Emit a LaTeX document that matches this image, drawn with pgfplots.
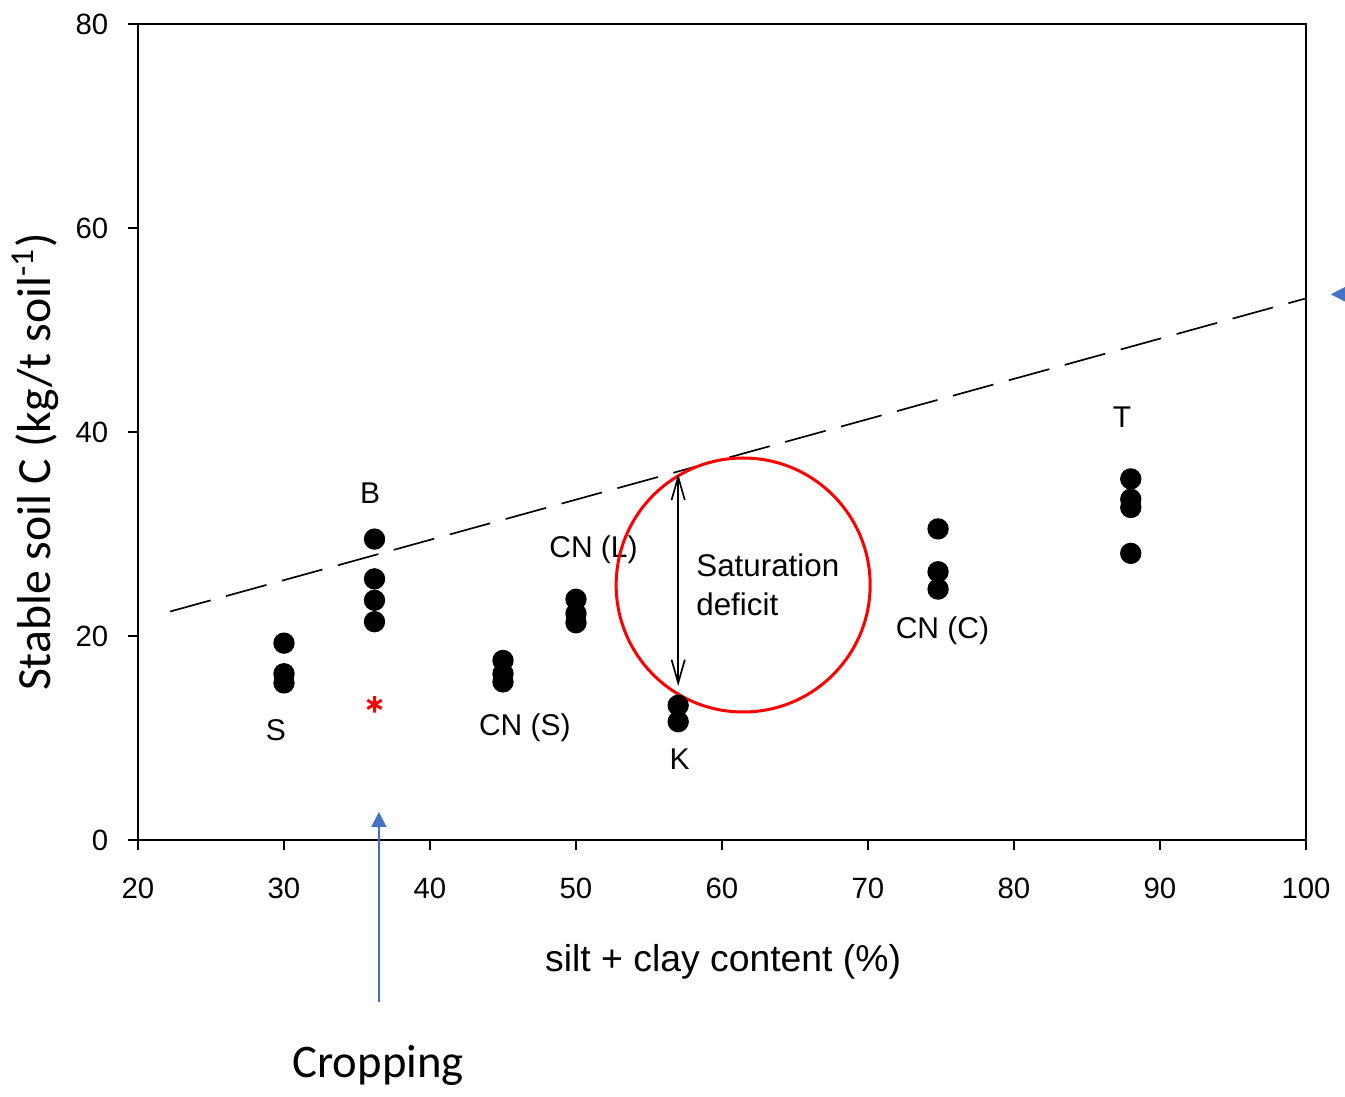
\documentclass[border=0pt]{standalone}
\usepackage{pgfplots}
\pgfplotsset{compat=1.18}
\usepackage{fontspec}
\setmainfont{Liberation Sans}
\newfontfamily\calibri{Carlito}
\usetikzlibrary{arrows.meta}
\definecolor{officeblue}{RGB}{68,114,196}

\begin{document}
\begin{tikzpicture}
\path[use as bounding box] (-41.4pt,-76.8pt) rectangle (362.1pt,252pt);
\begin{axis}[
  at={(0,0)}, anchor=south west,
  width=350.4pt, height=244.8pt, scale only axis,
  xmin=20, xmax=100, ymin=0, ymax=80,
  xtick={20,30,...,100}, ytick={0,20,...,80},
  tick align=outside, tick pos=left,
  major tick length=3pt,
  axis line style={line width=0.7pt},
  tick style={line width=0.7pt, black},
  ticklabel style={font=\fontsize{8.8}{10}\selectfont},
  /pgf/number format/assume math mode=true,
  xticklabel style={yshift=-4.8pt},
  yticklabel style={xshift=-2.4pt},
  clip=false,
  xlabel={silt + clay content (\%)},
  xlabel style={font=\fontsize{11.2}{13}\selectfont, at={(axis description cs:0.501,-0.149)}, anchor=center},
  ylabel={\calibri Stable soil C (kg/t soil\textsuperscript{-1})},
  ylabel style={font=\fontsize{14.3}{16}\selectfont, at={(axis description cs:-0.088,0.463)}, anchor=center, rotate=0},
]
% saturation line
\addplot[black, line width=0.5pt, dash pattern=on 12.6pt off 4.8pt] coordinates {(22.2,22.4) (100,53.1)};

% measured stable C
\addplot[only marks, mark=*, mark size=3pt, black] coordinates {
  (30,19.3) (30,16.3) (30,15.4)
  (36.2,29.5) (36.2,25.6) (36.2,23.5) (36.2,21.4)
  (45,17.6) (45,16.3) (45,15.5)
  (50,23.6) (50,22.2) (50,21.3)
  (57,13.2) (57,11.6)
  (74.8,30.5) (74.8,26.3) (74.8,24.6)
  (88,35.4) (88,33.4) (88,32.6) (88,28.1)
};

% cropped site
\addplot[only marks, mark=asterisk, mark size=2.5pt, red, line width=0.9pt] coordinates {(36.2,13.3)};

% site labels
\begin{scope}[font=\fontsize{9}{11}\selectfont]
\node at (axis cs:29.45,10.8) {S};
\node at (axis cs:35.9,34.0) {B};
\node at (axis cs:46.5,11.0) {CN (S)};
\node at (axis cs:51.2,28.5) {CN (L)};
\node at (axis cs:57.1,7.9) {K};
\node at (axis cs:75.1,20.5) {CN (C)};
\node at (axis cs:87.4,41.5) {T};
\end{scope}

% saturation deficit
\draw[red, line width=0.9pt] (axis cs:61.45,25.0) circle[radius=38.1pt];
\draw[black, line width=0.5pt, {Straight Barb[length=7pt,width=4pt]}-{Straight Barb[length=7pt,width=4pt]}] (axis cs:57,35.9) -- (axis cs:57,15.1);
\node[anchor=west, align=left, inner sep=0pt, font=\fontsize{9.4}{11.7}\selectfont] at (axis cs:58.2,25.05) {Saturation\\deficit};

% cropping arrow
\draw[officeblue, line width=0.5pt, -{Triangle[length=4.5pt,width=4.5pt]}] (axis cs:36.5,-15.9) -- (axis cs:36.5,2.75);
\node[font=\calibri\fontsize{14}{16}\selectfont] at (axis cs:36.45,-22.1) {Cropping};

% arrow at the right margin
\draw[officeblue, line width=0.5pt, -{Triangle[length=4.5pt,width=4.5pt]}] (axis cs:106,53.5) -- (axis cs:101.7,53.5);
\end{axis}
\end{tikzpicture}
\end{document}
